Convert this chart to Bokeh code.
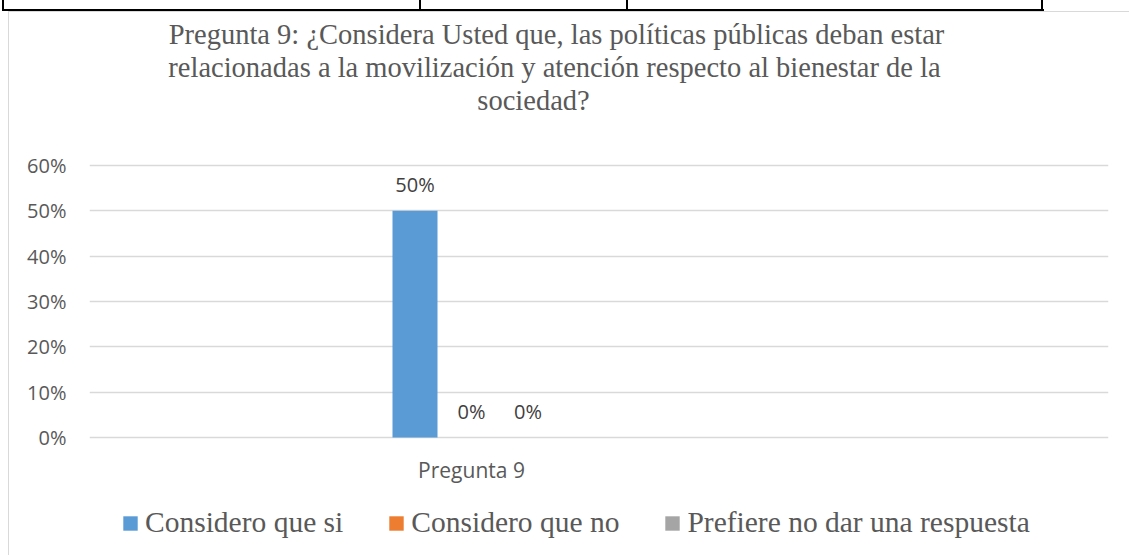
from bokeh.plotting import figure
from bokeh.models import (ColumnDataSource, Legend, LegendItem, FixedTicker,
                          NumeralTickFormatter, Label)
from bokeh.embed import file_html
from bokeh.resources import INLINE
from bokeh.core.properties import value

# ---------------- data ----------------
title_lines = [
    "Pregunta 9: ¿Considera Usted que, las políticas públicas deban estar",
    "relacionadas a la movilización y atención respecto al bienestar de la",
    "sociedad?",
]
categories = ["Pregunta 9"]
series = ["Considero que si", "Considero que no", "Prefiere no dar una respuesta"]
values = [0.50, 0.00, 0.00]
colors = ["#5B9BD5", "#ED7D31", "#A5A5A5"]
y_ticks = [0.0, 0.1, 0.2, 0.3, 0.4, 0.5, 0.6]

# ---------------- layout (pixels) ----------------
W, H = 1129, 555
FR_L, FR_R, FR_T, FR_B = 89, 1108, 12, 555        # plot frame
Y0_PX, Y60_PX = 437, 165                          # pixel rows of 0% and 60%
CAT_X, STEP = 471, 56.5                           # category centre, bar step
PX_PER_UNIT = (Y0_PX - Y60_PX) / y_ticks[-1]


def dx(px):
    return (px - CAT_X) / STEP


def dy(py):
    return (Y0_PX - py) / PX_PER_UNIT


p = figure(width=W, height=H, output_backend="svg", toolbar_location=None,
           x_axis_location=None,
           x_range=(dx(FR_L), dx(FR_R)), y_range=(dy(FR_B), dy(FR_T)),
           min_border_left=FR_L, min_border_right=W - FR_R,
           min_border_top=FR_T, min_border_bottom=H - FR_B,
           background_fill_color="white", border_fill_color=None)
p.outline_line_color = None

# decorations: chart border (light grey) and the table rule above it
p.styles = {
    "background-color": "white",
    "background-image": ", ".join(["linear-gradient(#000,#000)"] * 5 +
                                  ["linear-gradient(#D9D9D9,#D9D9D9)"] * 2),
    "background-repeat": "no-repeat",
    "background-size": "1042px 2px, 2px 10px, 2px 10px, 2px 10px, 2px 10px, "
                       "1121px 1px, 1px 544px",
    "background-position": "2px 9px, 2px 0px, 419px 0px, 626px 0px, 1041px 0px, "
                           "8px 11px, 8px 11px",
}

# bars
renderers = []
lab_x, lab_y, lab_t = [], [], []
n = len(series)
for i, (s, v, c) in enumerate(zip(series, values, colors)):
    xpos = 0 + (i - (n - 1) / 2)
    r = p.vbar(x=[xpos], top=[v], bottom=0, width=45 / STEP, fill_color=c, line_color=None)
    renderers.append(r)
    lab_x.append(xpos)
    lab_y.append(v)
    lab_t.append(f"{v:.0%}")

src = ColumnDataSource(dict(x=lab_x, y=lab_y, t=lab_t))
p.text(x="x", y="y", text="t", source=src, text_align="center", text_baseline="alphabetic",
       y_offset=-26, text_font=value("Open Sans"), text_font_size="20px", text_color="#404040")

# category label under the cluster
cat_src = ColumnDataSource(dict(x=list(range(len(categories))), y=[0] * len(categories),
                                t=categories))
p.text(x="x", y="y", text="t", source=cat_src, text_align="center", text_baseline="middle",
       y_offset=32, text_font=value("Open Sans"), text_font_size="21px", text_color="#595959")

# y axis
p.yaxis.ticker = FixedTicker(ticks=y_ticks)
p.yaxis.formatter = NumeralTickFormatter(format="0%")
ax = p.yaxis[0]
ax.axis_line_color = None
ax.major_tick_line_color = None
ax.minor_tick_line_color = None
ax.major_tick_out = 0
ax.major_tick_in = 0
ax.minor_tick_out = 0
ax.minor_tick_in = 0
ax.major_label_text_font = "Open Sans"
ax.major_label_text_color = "#595959"
ax.major_label_text_font_size = "20px"
ax.major_label_standoff = 23
p.xgrid.grid_line_color = None
p.xgrid.visible = False
p.ygrid.ticker = FixedTicker(ticks=y_ticks)
p.ygrid.grid_line_color = "#D9D9D9"
p.ygrid.grid_line_width = 1.3

# title: three centred lines
for line, (tx, ty) in zip(title_lines, [(556, 34), (554, 67), (533, 100)]):
    p.add_layout(Label(x=dx(tx), y=dy(ty), text=line, text_align="center",
                       text_baseline="middle", text_font="Liberation Serif",
                       text_font_size="28.5px", text_color="#595959"))

# legend
legend = Legend(items=[LegendItem(label=s, renderers=[r]) for s, r in zip(series, renderers)],
                orientation="horizontal", location=(121 - FR_L, H - 539),
                glyph_width=18, glyph_height=18, label_standoff=6, spacing=44,
                padding=0, margin=0, border_line_color=None, background_fill_alpha=0,
                label_height=30,
                label_text_font="Liberation Serif", label_text_font_size="29.5px",
                label_text_color="#595959", label_text_baseline="middle")
p.add_layout(legend, "center")

open("out.html", "w").write(file_html(p, INLINE))
